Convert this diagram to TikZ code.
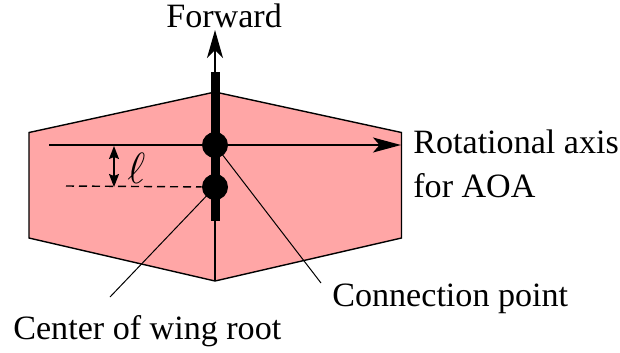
\documentclass[tikz,border=0pt]{standalone}
\usepackage{fontspec}
\setmainfont{Liberation Serif}
\usepackage{tikz}
\usetikzlibrary{arrows.meta,positioning,calc}
\definecolor{wingred}{RGB}{255,166,166}
\tikzset{
    wing/.style={draw, fill=wingred, line width=0.28mm, line join=miter},
    spar/.style={line width=1.8mm},
    joint/.style={circle, fill=black, inner sep=0pt, minimum size=5.2mm},
    thinline/.style={line width=0.28mm},
    leader/.style={line width=0.2mm},
    label/.style={anchor=base west, inner sep=0pt, font=\fontsize{19.4}{23}\selectfont},
    forwardarrow/.style={-{Stealth[length=5.6mm, width=3.2mm, inset=1.6mm]}, thinline},
    axisarrow/.style={-{Stealth[length=5.6mm, width=3mm, inset=1.3mm]}, thinline},
    smallarrow/.style={{Stealth[length=2.6mm, width=2mm, inset=0.4mm]}-{Stealth[length=2.6mm, width=2mm, inset=0.4mm]}, thinline}
}

\begin{document}
\begin{tikzpicture}[x=0.2mm, y=-0.2mm]
    \useasboundingbox (0,0) rectangle (620,352);

    \draw[wing] (29,132.5) -- (215,92) -- (401.5,132.5) -- (401.5,238) -- (215,281) -- (29,238) -- cycle;

    \coordinate (nose) at (215,72);
    \coordinate (tail) at (215,221);
    \coordinate (rear) at (215,281);
    \coordinate (front) at (215,30);
    \coordinate (axisstart) at (49,145);
    \coordinate (axisend) at (401,145);
    \coordinate (dashstart) at (66,186);
    \coordinate (armtop) at (114,146);
    \coordinate (armbottom) at (114,187);
    \coordinate (connend) at (321,283);
    \coordinate (rootend) at (110,297);

    \node[joint] (conn) at (215,145) {};
    \node[joint] (root) at (215,187) {};

    \node[label] (forward) at (166,27) {Forward};
    \node[label] (axistext) at (413,153) {Rotational axis};
    \node[label] (aoatext) at (413,197) {for AOA};
    \node[label] (conntext) at (332,306) {Connection point};
    \node[label] (roottext) at (13,339) {Center of wing root};
    \node[label, font=\fontsize{24}{24}\selectfont] (elltext) at (127,183) {$\ell$};

    \draw[thinline] (tail) -- (rear);
    \draw[forwardarrow] (nose) -- (front);
    \draw[spar] (nose) -- (tail);
    \draw[axisarrow] (axisstart) -- (axisend);
    \draw[thinline, dashed, dash pattern=on 1.6mm off 1mm] (dashstart) -- (root);
    \draw[smallarrow] (armtop) -- (armbottom);
    \draw[leader] (conn.center) -- (connend);
    \draw[leader] (root.center) -- (rootend);
\end{tikzpicture}
\end{document}
